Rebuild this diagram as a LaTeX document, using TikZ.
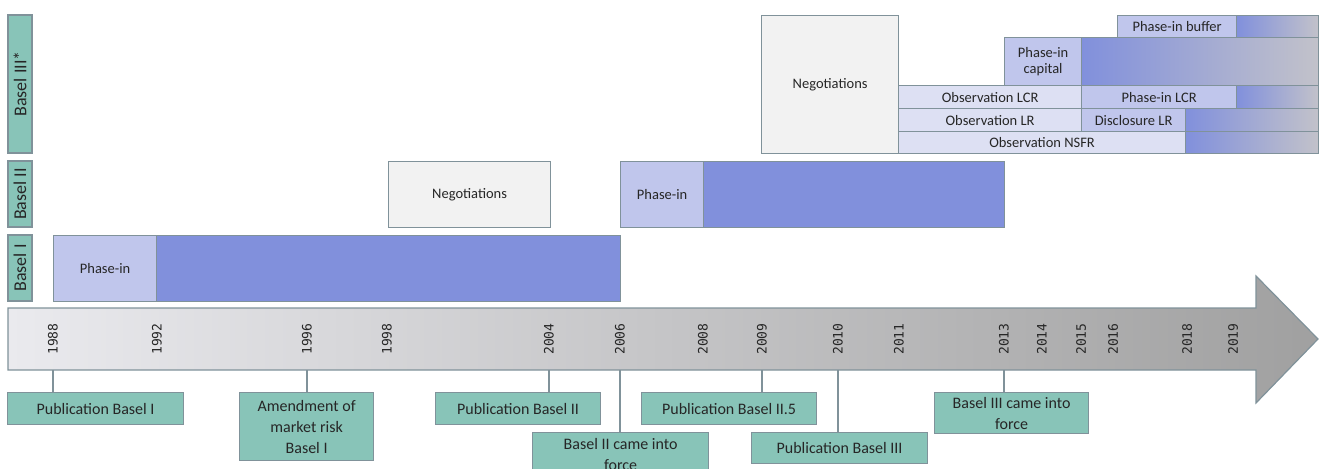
\documentclass[tikz,border=0pt]{standalone}
\usepackage{fontspec}
\setmainfont{Carlito}
\newfontfamily\yearfont{DejaVu Sans Mono}

\definecolor{edgegray}{RGB}{128,146,154}
\definecolor{labgreen}{RGB}{136,196,184}
\definecolor{phaselight}{RGB}{192,198,236}
\definecolor{phasedark}{RGB}{129,144,220}
\definecolor{obslight}{RGB}{221,224,243}
\definecolor{negogray}{RGB}{242,242,242}
\definecolor{fadegray}{RGB}{194,194,202}
\definecolor{axisleft}{RGB}{234,234,238}
\definecolor{axisright}{RGB}{160,160,160}

\tikzset{
  box/.style={draw=edgegray, line width=1.2pt, inner sep=0pt, align=center,
    anchor=north west, text=black!85, font=\fontsize{14.5}{16}\selectfont},
  nego/.style={box, fill=negogray},
  phin/.style={box, fill=phaselight},
  full/.style={box, fill=phasedark},
  obs/.style={box, fill=obslight},
  fade/.style={box, left color=phasedark, right color=fadegray},
  era/.style={draw=edgegray, line width=1.2pt, fill=labgreen, rotate=90,
    inner sep=0pt, minimum height=24pt, text=black!85,
    font=\fontsize{18}{20}\selectfont},
  event/.style={box, fill=labgreen, font=\fontsize{16}{21}\selectfont},
  year/.style={rotate=90, text=black!85, font=\yearfont\fontsize{13}{13}\selectfont},
  tick/.style={draw=edgegray, line width=1.2pt}
}

\begin{document}
\begin{tikzpicture}[x=1pt, y=-1pt]
  \useasboundingbox (0,0) rectangle (1321,468);
  \clip (0,0) rectangle (1321,468);

  % era labels
  \node[era, minimum width=138pt] (era3) at (20,84) {Basel III*};
  \node[era, minimum width=66pt] (era2) at (20,194) {Basel II};
  \node[era, minimum width=66pt] (era1) at (20,268) {Basel I};

  % Basel I
  \node[phin, minimum width=103pt, minimum height=66pt] (b1phase) at (53,235) {Phase-in};
  \node[full, minimum width=464pt, minimum height=66pt] (b1full) at (156,235) {};

  % Basel II
  \node[nego, minimum width=162pt, minimum height=66pt] (b2nego) at (388,161) {Negotiations};
  \node[phin, minimum width=83pt, minimum height=66pt] (b2phase) at (620,161) {Phase-in};
  \node[full, minimum width=301pt, minimum height=66pt] (b2full) at (703,161) {};

  % Basel III
  \node[nego, minimum width=137pt, minimum height=138pt] (b3nego) at (761,15) {Negotiations};
  \node[phin, minimum width=119pt, minimum height=22pt] (buffer) at (1117,15) {Phase-in buffer};
  \node[fade, minimum width=82pt, minimum height=22pt] (bufferfade) at (1236,15) {};
  \node[phin, minimum width=77pt, minimum height=48pt] (capital) at (1004,37) {Phase-in\\capital};
  \node[fade, minimum width=237pt, minimum height=48pt] (capitalfade) at (1081,37) {};
  \node[obs, minimum width=183pt, minimum height=23pt] (obslcr) at (898,85) {Observation LCR};
  \node[phin, minimum width=155pt, minimum height=23pt] (phlcr) at (1081,85) {Phase-in LCR};
  \node[fade, minimum width=82pt, minimum height=23pt] (lcrfade) at (1236,85) {};
  \node[obs, minimum width=183pt, minimum height=23pt] (obslr) at (898,108) {Observation LR};
  \node[phin, minimum width=104pt, minimum height=23pt] (disclr) at (1081,108) {Disclosure LR};
  \node[fade, minimum width=133pt, minimum height=23pt] (lrfade) at (1185,108) {};
  \node[obs, minimum width=287pt, minimum height=22pt] (obsnsfr) at (898,131) {Observation NSFR};
  \node[fade, minimum width=133pt, minimum height=22pt] (nsfrfade) at (1185,131) {};

  % time axis
  \shadedraw[draw=edgegray, line width=1.2pt, left color=axisleft, right color=axisright]
    (8,308) -- (1256,308) -- (1256,276) -- (1318,339) -- (1256,403)
    -- (1256,370) -- (8,370) -- cycle;
  \coordinate (axis) at (8,370);

  \foreach \yr/\x in {1988/53, 1992/157, 1996/307, 1998/387, 2004/549, 2006/620,
      2008/703, 2009/762, 2010/838, 2011/899, 2013/1004, 2014/1042, 2015/1081,
      2016/1113, 2018/1187, 2019/1233}
    \node[year] (y\yr) at (\x,339) {\yr};

  % events
  \node[event, minimum width=176pt, minimum height=32pt] (pub1) at (7,392) {Publication Basel I};
  \node[event, minimum width=134pt, minimum height=68pt] (amend) at (239,392) {Amendment of\\market risk\\Basel I};
  \node[event, minimum width=165pt, minimum height=32pt] (pub2) at (435,392) {Publication Basel II};
  \node[event, minimum width=176pt, minimum height=43pt] (force2) at (532,432) {Basel II came into\\force};
  \node[event, minimum width=175pt, minimum height=32pt] (pub25) at (641,392) {Publication Basel II.5};
  \node[event, minimum width=176pt, minimum height=31pt] (pub3) at (751,432) {Publication Basel III};
  \node[event, minimum width=154pt, minimum height=41pt] (force3) at (934,392) {Basel III came into\\force};

  \draw[tick] (y1988 |- axis) -- (y1988 |- pub1.north);
  \draw[tick] (y1996 |- axis) -- (y1996 |- amend.north);
  \draw[tick] (y2004 |- axis) -- (y2004 |- pub2.north);
  \draw[tick] (y2006 |- axis) -- (y2006 |- force2.north);
  \draw[tick] (y2009 |- axis) -- (y2009 |- pub25.north);
  \draw[tick] (y2010 |- axis) -- (y2010 |- pub3.north);
  \draw[tick] (y2013 |- axis) -- (y2013 |- force3.north);
\end{tikzpicture}
\end{document}
